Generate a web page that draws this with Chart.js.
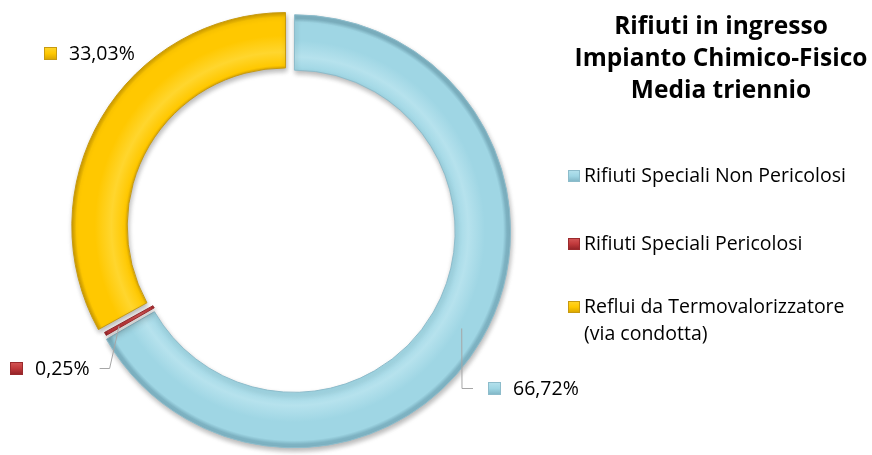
<!DOCTYPE html>
<html>
<head>
<meta charset="utf-8">
<script src="https://cdn.jsdelivr.net/npm/chart.js@4.4.1/dist/chart.umd.min.js"></script>
<style>
  html, body { margin: 0; padding: 0; background: #fff; }
  #wrap { width: 872px; height: 455px; }
</style>
</head>
<body>
<div id="wrap"><canvas id="chart" width="872" height="455"></canvas></div>
<script>
// data
var categories = ['Rifiuti Speciali Non Pericolosi', 'Rifiuti Speciali Pericolosi', 'Reflui da Termovalorizzatore (via condotta)'];
var legendLines = [['Rifiuti Speciali Non Pericolosi'], ['Rifiuti Speciali Pericolosi'], ['Reflui da Termovalorizzatore', '(via condotta)']];
var shares = [66.72, 0.25, 33.03];
var titleLines = ['Rifiuti in ingresso', 'Impianto Chimico-Fisico', 'Media triennio'];

// styles
var baseColors = ['#9fd6e4', '#c0393b', '#ffc800'];
var lightColors = ['#b6e2ed', '#d65858', '#ffd62e'];
var darkColors = ['#7eb3c3', '#8e2025', '#d6a300'];
var borderColors = ['#8dbccb', '#9a2a2d', '#c79a10'];
var sliceOffsets = [14, 0, 25];
var labelTextX = [513, 35, 69];
var labelBaseline = [395, 375, 60];
var showLeader = [true, true, false];
var FONT = '"Open Sans", "DejaVu Sans", sans-serif';

function fmt(v) {
    return v.toFixed(2).replace('.', ',') + '%';
}

function ringGradient(context) {
    var chart = context.chart;
    var i = context.dataIndex;
    var ctrl = chart.getDatasetMeta(0).controller;
    var area = chart.chartArea;
    if (!area || !ctrl || !ctrl.outerRadius) {
        return baseColors[i];
    }
    var cx = (area.left + area.right) / 2;
    var cy = (area.top + area.bottom) / 2;
    var g = chart.ctx.createRadialGradient(cx, cy, ctrl.innerRadius, cx, cy, ctrl.outerRadius);
    g.addColorStop(0, darkColors[i]);
    g.addColorStop(0.06, baseColors[i]);
    g.addColorStop(0.3, lightColors[i]);
    g.addColorStop(0.6, baseColors[i]);
    g.addColorStop(0.93, baseColors[i]);
    g.addColorStop(1, darkColors[i]);
    return g;
}

function drawMarker(ctx, x, y, size, i) {
    var g = ctx.createLinearGradient(x, y, x, y + size);
    g.addColorStop(0, lightColors[i]);
    g.addColorStop(0.5, baseColors[i]);
    g.addColorStop(1, darkColors[i]);
    ctx.fillStyle = g;
    ctx.fillRect(x, y, size, size);
    ctx.strokeStyle = borderColors[i];
    ctx.lineWidth = 1;
    ctx.strokeRect(x + 0.5, y + 0.5, size - 1, size - 1);
}

var shadowPlugin = {
    id: 'ringShadow',
    beforeDatasetsDraw: function (chart) {
        var ctx = chart.ctx;
        ctx.save();
        ctx.shadowColor = 'rgba(0,0,0,0.28)';
        ctx.shadowBlur = 5;
        ctx.shadowOffsetX = 1;
        ctx.shadowOffsetY = 3;
    },
    afterDatasetsDraw: function (chart) {
        chart.ctx.restore();
    }
};

var labelPlugin = {
    id: 'sliceLabels',
    afterDraw: function (chart) {
        var ctx = chart.ctx;
        var meta = chart.getDatasetMeta(0);
        ctx.save();
        ctx.font = '19.5px ' + FONT;
        ctx.textBaseline = 'alphabetic';
        ctx.textAlign = 'left';
        meta.data.forEach(function (el, i) {
            var text = fmt(shares[i]);
            var tx = labelTextX[i];
            var ty = labelBaseline[i];
            var w = ctx.measureText(text).width;
            var mx = tx - 25;
            drawMarker(ctx, mx, ty - 13, 13, i);
            ctx.fillStyle = '#000';
            ctx.fillText(text, tx, ty);

            if (showLeader[i]) {
                var mid = (el.startAngle + el.endAngle) / 2;
                var r = (el.innerRadius + el.outerRadius) / 2 + 12;
                var ax = el.x + Math.cos(mid) * r;
                var ay = el.y + Math.sin(mid) * r;
                var ly = ty - 7;
                var ex, bx;
                if (tx > ax) {
                    ex = mx - 15;
                    bx = ex - 11;
                } else {
                    ex = tx + w + 10;
                    bx = ex + 10;
                }
                ctx.strokeStyle = '#a6a6a6';
                ctx.lineWidth = 1;
                ctx.beginPath();
                ctx.moveTo(ax, ay);
                ctx.lineTo(bx, ly + 0.5);
                ctx.lineTo(ex, ly + 0.5);
                ctx.stroke();
            }
        });

        // title
        ctx.fillStyle = '#000';
        ctx.textAlign = 'center';
        ctx.font = 'bold 24.5px ' + FONT;
        var titleBase = [34, 66, 98];
        titleLines.forEach(function (t, k) {
            ctx.fillText(t, 721, titleBase[k]);
        });

        // legend
        ctx.textAlign = 'left';
        ctx.font = '19.5px ' + FONT;
        var legendBase = [182, 250, 313];
        legendLines.forEach(function (lines, i) {
            drawMarker(ctx, 568, legendBase[i] - 12, 12, i);
            lines.forEach(function (line, k) {
                ctx.fillStyle = '#000';
                ctx.fillText(line, 584, legendBase[i] + k * 27);
            });
        });
        ctx.restore();
    }
};

var chart = new Chart(document.getElementById('chart').getContext('2d'), {
    type: 'doughnut',
    data: {
        labels: categories,
        datasets: [{
            data: shares,
            backgroundColor: ringGradient,
            borderColor: borderColors,
            borderWidth: 1,
            offset: sliceOffsets,
            hoverOffset: 0
        }]
    },
    options: {
        responsive: false,
        animation: false,
        radius: 213,
        cutout: '74%',
        layout: { padding: { left: 0, top: 4, right: 290, bottom: 0 } },
        plugins: {
            legend: { display: false },
            title: { display: false },
            tooltip: { enabled: false }
        }
    },
    plugins: [shadowPlugin, labelPlugin]
});
</script>
</body>
</html>
